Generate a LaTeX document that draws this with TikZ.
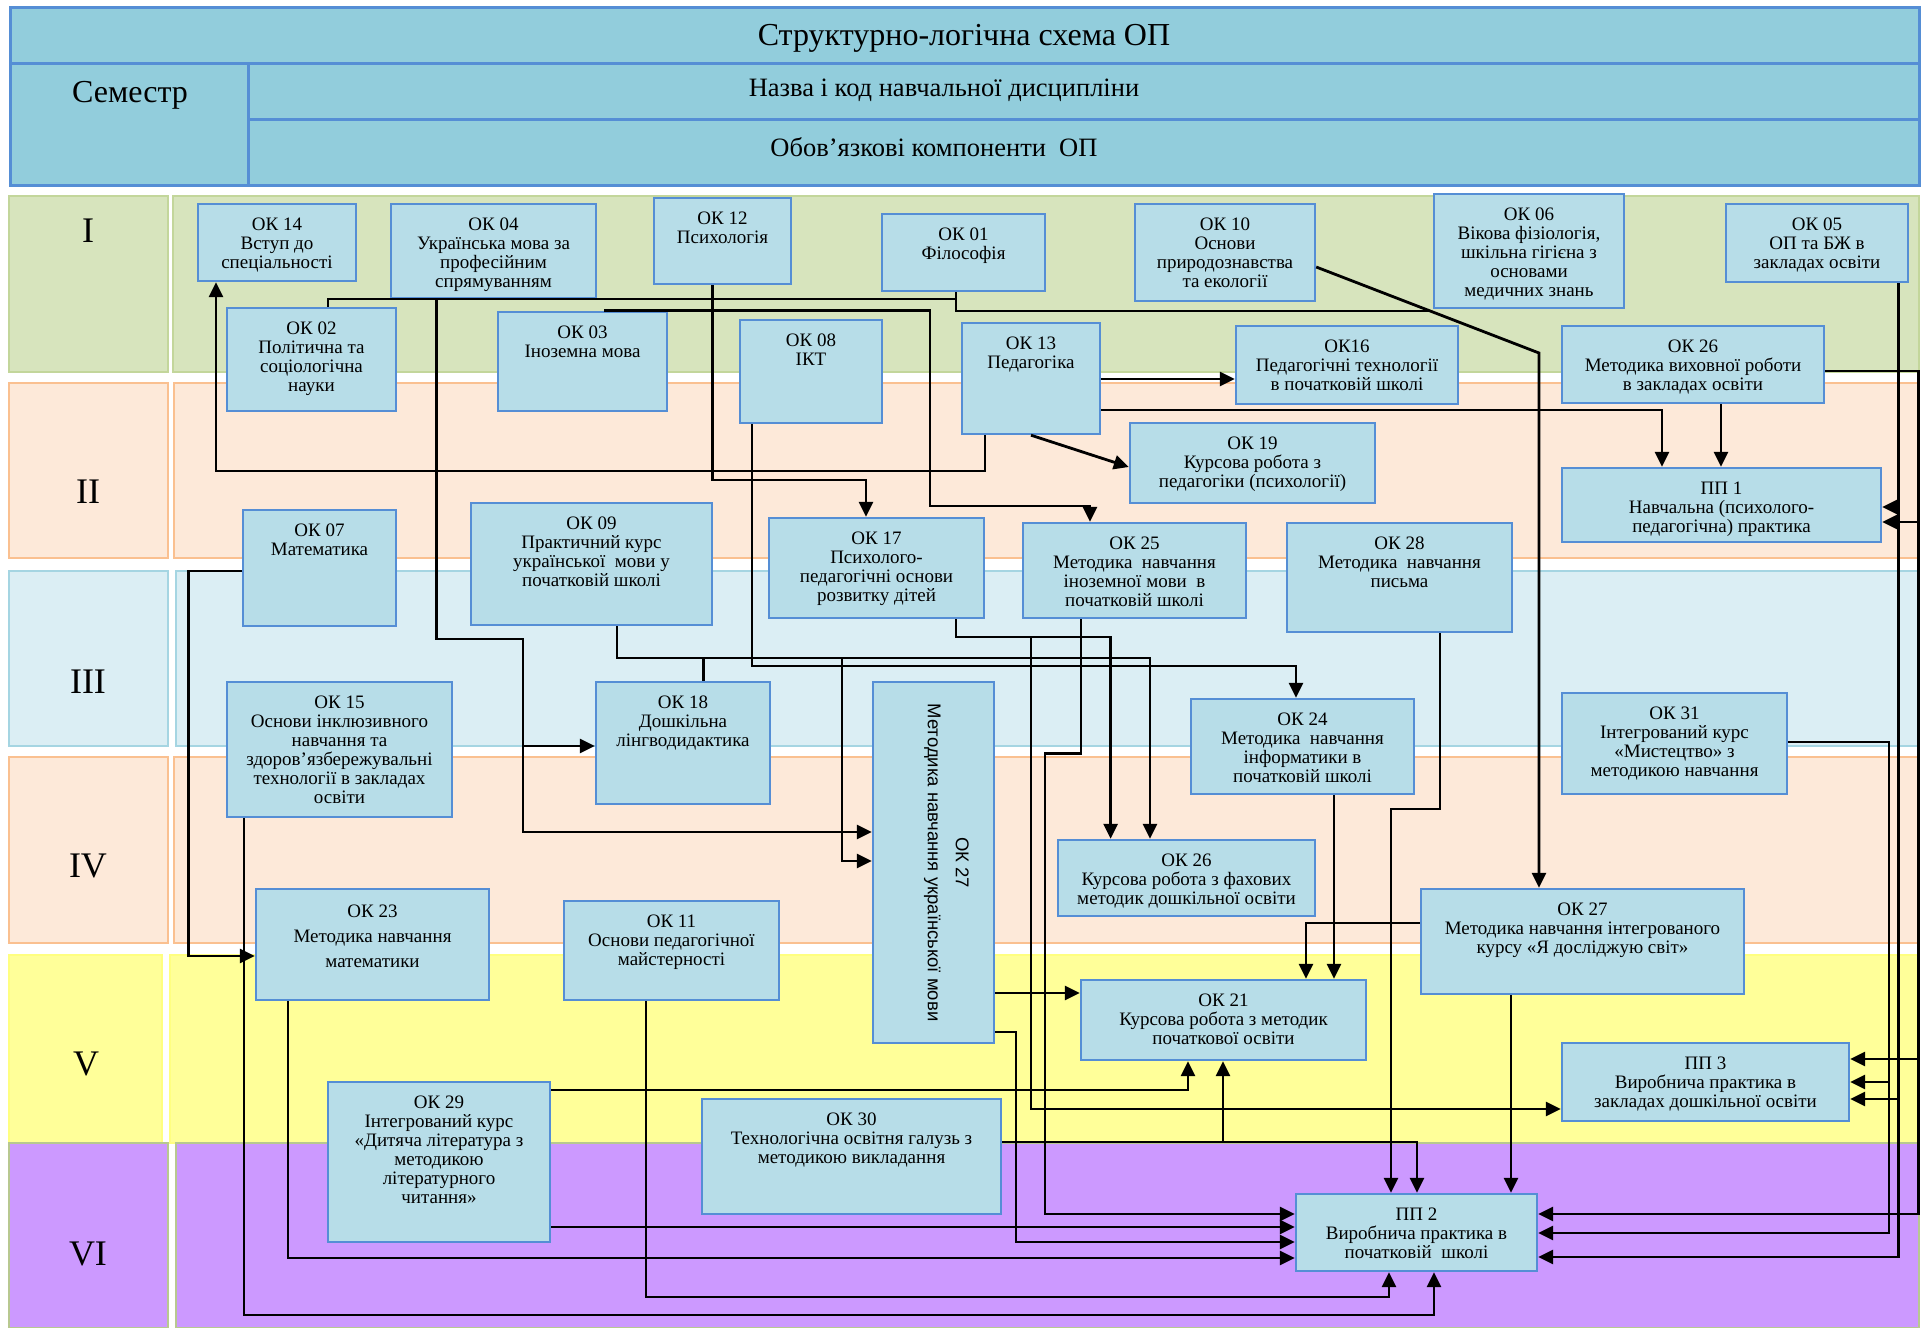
\documentclass[tikz,border=0pt]{standalone}
\usepackage{fontspec}
\setmainfont{Liberation Serif}
\newfontfamily\arialf{Liberation Sans}
\usetikzlibrary{arrows.meta,fit}
\definecolor{hdrfill}{HTML}{92CDDC}
\definecolor{hdrline}{HTML}{558ED5}
\definecolor{boxfill}{HTML}{B7DDE8}
\definecolor{boxline}{HTML}{558ED5}
\definecolor{grfill}{HTML}{D7E4BD}
\definecolor{grline}{HTML}{C3D69B}
\definecolor{pefill}{HTML}{FDE9D9}
\definecolor{peline}{HTML}{FAC090}
\definecolor{lbfill}{HTML}{DBEEF4}
\definecolor{lbline}{HTML}{A5D5E2}
\definecolor{yefill}{HTML}{FFFF99}
\definecolor{yeline}{HTML}{FFFF80}
\definecolor{pufill}{HTML}{CC99FF}
\definecolor{puline}{HTML}{B8C890}
\newcommand\okbox[6]{%
  \node[okb,fit={(#2,#3)(#4,#5)}] (#1) {};
  \node[okt] at ([yshift=-12pt]#1.north) {\rule{0pt}{15pt}#6};}
\begin{document}
\begin{tikzpicture}[x=1pt,y=-1pt,
  okb/.style={draw=boxline,fill=boxfill,line width=2.4pt,inner sep=0pt},
  okt/.style={inner sep=0pt,align=center,anchor=north,font=\fontsize{19}{19}\selectfont},
  band/.style={line width=2.2pt},
  sem/.style={inner sep=0pt,font=\fontsize{36}{40}\selectfont},
  ln/.style={line width=2.8pt,line join=miter},
  arr/.style={line width=2.8pt,line join=miter,-{Triangle[length=15pt,width=14pt]}}]
\useasboundingbox (0,0) rectangle (1923,1328);
\fill[white] (0,0) rectangle (1923,1328);
% header
\draw[fill=hdrfill,draw=hdrline,line width=3pt] (10,7) rectangle (1919,185);
\draw[draw=hdrline,line width=3pt] (10,63) -- (1919,63) (248,63) -- (248,185) (248,119) -- (1919,119);
\node[inner sep=0pt,font=\fontsize{32}{34}\selectfont] (title) at (964,38) {Структурно-логічна схема ОП};
\node[inner sep=0pt,font=\fontsize{32}{34}\selectfont] (semh) at (130,95) {Семестр};
\node[inner sep=0pt,font=\fontsize{26.5}{28}\selectfont] (nazva) at (944,90) {Назва і код навчальної дисципліни};
\node[inner sep=0pt,font=\fontsize{26.5}{28}\selectfont] (oboviaz) at (934,147) {Обов’язкові компоненти\ \ ОП};
% bands
\path[band,fill=grfill,draw=grline] (9,196) rectangle (168,372) (173,196) rectangle (1919,372);
\path[band,fill=pefill,draw=peline] (9,383) rectangle (168,558) (174,383) rectangle (1919,558);
\path[band,fill=lbfill,draw=lbline] (9,571) rectangle (168,746) (176,571) rectangle (1919,746);
\path[band,fill=pefill,draw=peline] (9,757) rectangle (168,943) (174,757) rectangle (1919,943);
\path[band,fill=yefill,draw=yeline] (9,955) rectangle (162,1143) (170,955) rectangle (1919,1143);
\path[band,fill=pufill,draw=puline] (9,1143) rectangle (168,1328) (176,1143) rectangle (1919,1328);
\node[sem] (s1) at (88,231) {I};
\node[sem] (s2) at (88,492) {II};
\node[sem] (s3) at (88,682) {III};
\node[sem] (s4) at (88,866) {IV};
\node[sem] (s5) at (86,1064) {V};
\node[sem] (s6) at (88,1254) {VI};
% boxes
\okbox{ok14}{198}{204}{356}{281}{ОК 14\\Вступ до\\спеціальності}
\okbox{ok04}{391}{204}{596}{298}{ОК 04\\Українська мова за\\професійним\\спрямуванням}
\okbox{ok12}{654}{198}{791}{284}{ОК 12\\Психологія}
\okbox{ok01}{882}{214}{1045}{291}{ОК 01\\Філософія}
\okbox{ok10}{1135}{204}{1315}{301}{ОК 10\\Основи\\природознавства\\та екології}
\okbox{ok06}{1434}{194}{1624}{308}{ОК 06\\Вікова фізіологія,\\шкільна гігієна з\\основами\\медичних знань}
\okbox{ok05}{1726}{204}{1908}{282}{ОК 05\\ОП та БЖ в\\закладах освіти}
\okbox{ok02}{227}{308}{396}{411}{ОК 02\\Політична та\\соціологічна\\науки}
\okbox{ok03}{498}{312}{667}{411}{ОК 03\\Іноземна мова}
\okbox{ok08}{740}{320}{882}{423}{ОК 08\\ІКТ}
\okbox{ok13}{962}{323}{1100}{434}{ОК 13\\Педагогіка}
\okbox{ok16}{1236}{326}{1458}{404}{ОК16\\Педагогічні технології\\в початковій школі}
\okbox{ok26v}{1562}{326}{1824}{403}{ОК 26\\Методика виховної роботи\\в закладах освіти}
\okbox{ok19}{1130}{423}{1375}{503}{ОК 19\\Курсова робота з\\педагогіки (психології)}
\okbox{pp1}{1562}{468}{1881}{542}{ПП 1\\Навчальна (психолого-\\педагогічна) практика}
\okbox{ok07}{243}{510}{396}{626}{ОК 07\\Математика}
\okbox{ok09}{471}{503}{712}{625}{ОК 09\\Практичний курс\\української\ \ мови у\\початковій школі}
\okbox{ok17}{769}{518}{984}{618}{ОК 17\\Психолого-\\педагогічні основи\\розвитку дітей}
\okbox{ok25}{1023}{523}{1246}{618}{ОК 25\\Методика\ \ навчання\\іноземної мови\ \ в\\початковій школі}
\okbox{ok28}{1287}{523}{1512}{632}{ОК 28\\Методика\ \ навчання\\письма}
\okbox{ok15}{227}{682}{452}{817}{ОК 15\\Основи інклюзивного\\навчання та\\здоров'язбережувальні\\технології в закладах\\освіти}
\okbox{ok18}{596}{682}{770}{804}{ОК 18\\Дошкільна\\лінгводидактика}
\node[okb,fit={(873,682)(994,1043)}] (ok27v) {};
\node[inner sep=0pt,align=center,rotate=-90,font=\arialf\fontsize{18.5}{28}\selectfont] at ([xshift=13pt]ok27v.center) {ОК 27\\Методика навчання української мови};
\okbox{ok24}{1191}{699}{1414}{794}{ОК 24\\Методика\ \ навчання\\інформатики в\\початковій школі}
\okbox{ok31}{1562}{693}{1787}{794}{ОК 31\\Інтегрований курс\\«Мистецтво» з\\методикою навчання}
\okbox{ok26k}{1058}{840}{1315}{916}{ОК 26\\Курсова робота з фахових\\методик дошкільної освіти}
\node[okb,fit={(256,889)(489,1000)}] (ok23) {};
\node[okt,font=\fontsize{19}{25}\selectfont] at ([yshift=-14pt]ok23.north) {\rule{0pt}{15pt}ОК 23\\Методика навчання\\математики};
\okbox{ok11}{564}{901}{779}{1000}{ОК 11\\Основи педагогічної\\майстерності}
\okbox{ok27i}{1421}{889}{1744}{994}{ОК 27\\Методика навчання інтегрованого\\курсу «Я досліджую світ»}
\okbox{ok21}{1081}{980}{1366}{1060}{ОК 21\\Курсова робота з методик\\початкової освіти}
\okbox{pp3}{1562}{1043}{1849}{1121}{ПП 3\\Виробнича практика в\\закладах дошкільної освіти}
\okbox{ok29}{328}{1082}{550}{1242}{ОК 29\\Інтегрований курс\\«Дитяча література з\\методикою\\літературного\\читання»}
\okbox{ok30}{702}{1099}{1001}{1214}{ОК 30\\Технологічна освітня галузь з\\методикою викладання}
\okbox{pp2}{1296}{1194}{1537}{1271}{ПП 2\\Виробнича практика в\\початковій\ \ школі}
% connectors
\draw[arr] (ok13.south -| 985,0) |- (216,471) -- (ok14.south -| 216,0);
\draw[ln] (ok02.north -| 328,0) |- (956,299);
\draw[ln] (ok01.south -| 956,0) |- (1432,311);
\draw[arr] (ok10.east |- 0,267) -- (1539,353) -- (ok27i.north -| 1539,0);
\draw[arr] (ok04.south -| 436.5,0) |- (523,639) |- (ok27v.west |- 0,832);
\draw[arr] (523,746) -- (ok18.west |- 0,746);
\draw[arr] (ok12.south -| 712.5,0) |- (866,480) -- (ok17.north -| 866,0);
\draw[arr] (ok03.north -| 604,0) -| (930,506) -| (ok25.north -| 1090,0);
\draw[arr] (ok08.south -| 752,0) |- (1296,666) -- (ok24.north -| 1296,0);
\draw[arr] (ok13.east |- 0,379) -- (ok16.west |- 0,379);
\draw[arr] (ok13.east |- 0,410) -| (pp1.north -| 1662,0);
\draw[arr] (ok13.south -| 1031,0) -- (ok19.west |- 0,467);
\draw[arr] (ok26v.south -| 1721,0) -- (pp1.north -| 1721,0);
\draw[arr] (ok05.south -| 1898.5,0) |- (pp2.east |- 0,1257);
\draw[arr] (1898.5,507) -- (pp1.east |- 0,507);
\draw[arr] (1898.5,1099) -- (pp3.east |- 0,1099);
\draw[arr] (ok26v.east |- 0,371) -| (1918.5,1214) -- (pp2.east |- 0,1214);
\draw[arr] (1918.5,522) -- (pp1.east |- 0,522);
\draw[arr] (1918.5,1059) -- (pp3.east |- 0,1059);
\draw[arr] (ok31.east |- 0,742) -| (1889,1233) -- (pp2.east |- 0,1233);
\draw[arr] (1889,1082) -- (pp3.east |- 0,1082);
\draw[arr] (ok07.west |- 0,571) -| (188.6,956) -- (ok23.west |- 0,956);
\draw[arr] (ok09.south -| 617,0) |- (842,658) |- (ok27v.west |- 0,861);
\draw[arr] (842,658) -| (ok26k.north -| 1150,0);
\draw[ln] (ok18.north -| 703.5,0) -- (703.5,658);
\draw[arr] (ok17.south -| 956,0) |- (1110.6,637) -- (ok26k.north -| 1110.6,0);
\draw[arr] (1031,637) |- (pp3.west |- 0,1109);
\draw[arr] (ok25.south -| 1081,0) |- (1045,753.5) |- (pp2.west |- 0,1214);
\draw[arr] (ok28.south -| 1440,0) |- (1391,809) -- (pp2.north -| 1391,0);
\draw[arr] (ok24.south -| 1334,0) -- (ok21.north -| 1334,0);
\draw[arr] (ok27i.west |- 0,923) -| (ok21.north -| 1306,0);
\draw[arr] (ok27i.south -| 1511,0) -- (pp2.north -| 1511,0);
\draw[arr] (ok27v.east |- 0,993) -- (ok21.west |- 0,993);
\draw[arr] (ok27v.east |- 0,1032) -| (1016,1242) -- (pp2.west |- 0,1242);
\draw[arr] (ok29.east |- 0,1090) -| (ok21.south -| 1188,0);
\draw[arr] (ok29.east |- 0,1227) -- (pp2.west |- 0,1227);
\draw[arr] (ok30.east |- 0,1142) -| (pp2.north -| 1417,0);
\draw[arr] (1223,1142) -- (ok21.south -| 1223,0);
\draw[arr] (ok23.south -| 288,0) |- (pp2.west |- 0,1258);
\draw[arr] (ok11.south -| 646,0) |- (1389,1297) -- (pp2.south -| 1389,0);
\draw[arr] (ok15.south -| 244,0) |- (1434,1315) -- (pp2.south -| 1434,0);
\end{tikzpicture}
\end{document}
